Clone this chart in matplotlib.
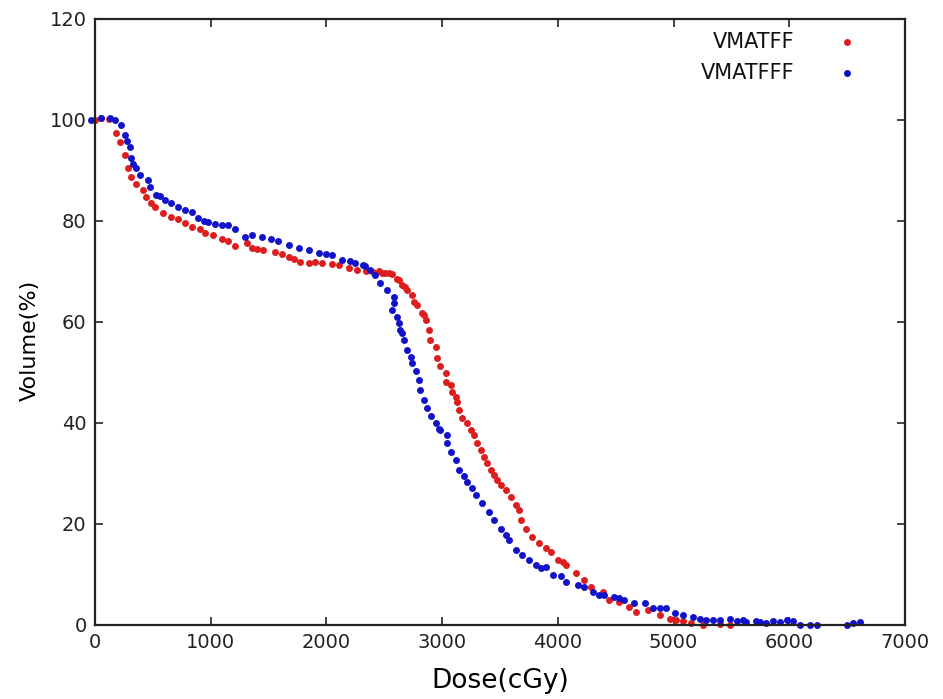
import matplotlib
matplotlib.use("Agg")
import matplotlib.pyplot as plt

# VMATFF dose-volume points (dose cGy, volume %)
ff_dose = [0, 55, 120, 185, 214, 257, 286, 315, 358, 416, 445, 488, 517, 589, 661, 719,
           777, 835, 907, 951, 1023, 1095, 1150, 1210, 1311, 1355, 1400, 1456, 1557, 1615,
           1673, 1720, 1774, 1846, 1900, 1962, 2048, 2106, 2192, 2264, 2340, 2400, 2452,
           2481, 2510, 2540, 2568, 2611, 2626, 2655, 2683, 2698, 2741, 2756, 2785, 2828,
           2842, 2857, 2886, 2891, 2943, 2958, 2986, 3030, 3030, 3073, 3088, 3116, 3131,
           3146, 3174, 3218, 3247, 3276, 3304, 3333, 3362, 3391, 3420, 3449, 3478, 3507,
           3550, 3594, 3637, 3666, 3680, 3724, 3781, 3839, 3897, 3940, 3998, 4041, 4070,
           4157, 4229, 4287, 4388, 4445, 4532, 4619, 4676, 4777, 4879, 4965, 5020, 5081,
           5150, 5254, 5400, 5485]
ff_vol = [100.0, 100.3, 100.2, 97.4, 95.6, 93.1, 90.4, 88.8, 87.3, 86.1, 84.7, 83.5, 82.7,
          81.5, 80.7, 80.3, 79.5, 78.9, 78.4, 77.6, 77.2, 76.4, 76.0, 75.0, 75.6, 74.6, 74.5,
          74.3, 73.8, 73.5, 72.9, 72.5, 71.9, 71.7, 71.9, 71.6, 71.5, 71.3, 70.6, 70.2, 70.1,
          69.9, 70.0, 69.6, 69.6, 69.7, 69.4, 68.6, 68.3, 67.3, 67.0, 66.3, 65.3, 64.0, 63.4,
          61.7, 61.4, 60.4, 58.4, 56.4, 55.1, 52.8, 51.2, 49.8, 48.2, 47.5, 46.2, 45.2, 44.2,
          42.6, 40.9, 39.9, 38.6, 37.6, 36.0, 34.7, 33.3, 32.0, 30.7, 29.7, 28.7, 27.7, 26.7,
          25.4, 23.8, 22.8, 20.8, 19.1, 17.5, 16.2, 15.2, 14.5, 12.9, 12.5, 11.9, 10.2, 8.9,
          7.6, 6.6, 5.0, 4.6, 3.6, 2.6, 3.0, 2.0, 1.1, 0.9, 0.7, 0.4, 0.0, 0.1, 0.0]

# VMATFFF dose-volume points
fff_dose = [-32, 52, 127, 170, 228, 257, 280, 301, 315, 330, 358, 387, 459, 474, 531, 560,
            604, 660, 719, 780, 835, 893, 940, 980, 1040, 1095, 1150, 1210, 1297, 1355,
            1442, 1520, 1586, 1673, 1759, 1846, 1932, 2000, 2048, 2134, 2200, 2250, 2319,
            2337, 2380, 2423, 2467, 2525, 2582, 2582, 2568, 2611, 2626, 2640, 2655, 2669,
            2698, 2727, 2741, 2770, 2799, 2813, 2842, 2871, 2900, 2943, 2972, 2986, 3045,
            3045, 3073, 3116, 3146, 3190, 3218, 3261, 3290, 3348, 3406, 3449, 3507, 3550,
            3579, 3637, 3694, 3752, 3810, 3854, 3897, 3954, 4027, 4070, 4171, 4229, 4301,
            4359, 4402, 4489, 4532, 4575, 4662, 4749, 4821, 4879, 4937, 5009, 5081, 5168,
            5230, 5283, 5340, 5399, 5485, 5550, 5601, 5630, 5716, 5745, 5800, 5860, 5920,
            5976, 6034, 6092, 6179, 6237, 6497, 6554, 6612]
fff_vol = [99.9, 100.4, 100.3, 99.9, 99.0, 97.0, 95.8, 94.7, 92.4, 91.2, 90.4, 89.1, 88.1,
           86.8, 85.1, 84.9, 84.2, 83.5, 82.8, 82.2, 81.8, 80.5, 80.0, 79.7, 79.4, 79.2, 79.1,
           78.5, 76.9, 77.2, 76.9, 76.5, 76.1, 75.2, 74.6, 74.3, 73.6, 73.4, 73.3, 72.3, 72.0,
           71.6, 71.3, 71.1, 70.3, 69.3, 67.7, 66.3, 65.0, 63.7, 62.4, 61.0, 59.7, 58.4, 57.8,
           56.4, 54.5, 53.1, 51.8, 50.2, 48.5, 46.5, 44.6, 42.9, 41.3, 39.9, 38.9, 38.6, 37.6,
           36.0, 34.3, 32.7, 30.7, 29.5, 28.4, 27.1, 25.7, 24.1, 22.4, 20.8, 19.1, 17.8, 16.8,
           14.9, 13.9, 12.9, 11.9, 11.2, 11.4, 9.9, 9.6, 8.6, 7.9, 7.6, 6.6, 5.9, 5.9, 5.6,
           5.3, 5.0, 4.3, 4.3, 3.3, 3.3, 3.3, 2.3, 2.0, 1.6, 1.2, 1.0, 0.9, 1.0, 1.1, 0.8,
           1.0, 0.5, 0.7, 0.5, 0.4, 0.7, 0.5, 1.0, 0.7, 0.0, 0.0, 0.0, 0.0, 0.3, 0.5]

x_ticks = [0, 1000, 2000, 3000, 4000, 5000, 6000, 7000]
y_ticks = [0, 20, 40, 60, 80, 100, 120]

RED = "#dc1e1e"
BLUE = "#1212c8"
MS = 5.0

fig = plt.figure(figsize=(9.43, 6.99), dpi=100)
ax = fig.add_axes([0.1007, 0.1059, 0.8590, 0.8670])

ax.plot(ff_dose, ff_vol, "o", color=RED, markersize=MS, markeredgewidth=0, clip_on=False)
ax.plot(fff_dose, fff_vol, "o", color=BLUE, markersize=MS, markeredgewidth=0, clip_on=False)

ax.set_xlim(0, 7000)
ax.set_ylim(0, 120)
ax.set_xticks(x_ticks)
ax.set_yticks(y_ticks)
ax.tick_params(direction="in", top=True, right=True, length=6, width=1.2,
               labelsize=14, colors="#222222", pad=6)
for s in ax.spines.values():
    s.set_linewidth(1.6)
    s.set_color("#222222")

ax.set_xlabel("Dose(cGy)", fontsize=19)
ax.set_ylabel("Volume(%)", fontsize=16)
ax.xaxis.set_label_coords(0.5, -0.071)
ax.yaxis.set_label_coords(-0.068, 0.47)

# legend, gnuplot style: right-aligned labels with the marker to the right
for label, col, yy in [("VMATFF", RED, 0.962), ("VMATFFF", BLUE, 0.911)]:
    ax.text(0.864, yy, label, transform=ax.transAxes, ha="right", va="center",
            fontsize=15, color="#111111")
    ax.plot([0.928], [yy], "o", color=col, markersize=MS, markeredgewidth=0,
            transform=ax.transAxes)

fig.savefig("out.png", dpi=100)
